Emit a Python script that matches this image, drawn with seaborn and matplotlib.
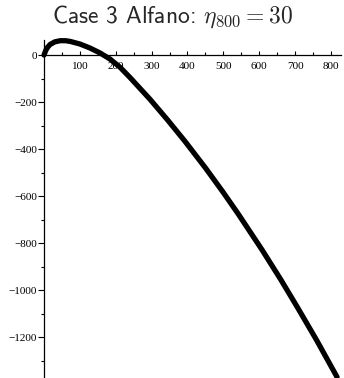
import numpy as np
import matplotlib
matplotlib.use("Agg")
import matplotlib.pyplot as plt
import matplotlib.ticker as mticker
import seaborn as sns
import pandas as pd

# Trajectory
x_vals = [0, 5, 10, 17, 30, 45, 60, 73, 100, 128, 156, 184, 212, 240, 296,
          345, 393, 450, 500, 541, 608, 660, 706, 760, 817]
y_vals = [0, 20, 33, 45, 56, 61, 61, 58, 47, 30, 9, -17, -52, -96, -189,
          -277, -367, -480, -585, -675, -829, -955, -1072, -1213, -1370]
x_ticks = [100, 200, 300, 400, 500, 600, 700, 800]
y_ticks = [0, -200, -400, -600, -800, -1000, -1200]

df = pd.DataFrame({"x": x_vals, "y": y_vals})

sns.set_theme(style="white")
plt.rcParams["mathtext.fontset"] = "cm"

fig = plt.figure(figsize=(3.44, 3.78), dpi=100)
ax = fig.add_axes([44 / 344, 0.0, 297 / 344, 1 - 40 / 378])

sns.lineplot(data=df, x="x", y="y", sort=False, color="black",
             linewidth=3.8, solid_capstyle="round", ax=ax)
for ln in ax.lines:
    ln.set_clip_on(False)

ax.set_xlim(0, 828)
ax.set_ylim(-1374, 64)

# axes crossing at the origin
ax.spines["left"].set_position(("data", 0))
ax.spines["bottom"].set_position(("data", 0))
ax.spines["top"].set_visible(False)
ax.spines["right"].set_visible(False)
for s in ("left", "bottom"):
    ax.spines[s].set_color("black")
    ax.spines[s].set_linewidth(0.9)

def fmt(v, pos):
    v = int(round(v))
    return "\u2212" + str(-v) if v < 0 else str(v)

ax.set_xticks(x_ticks)
ax.set_yticks(y_ticks)
ax.xaxis.set_minor_locator(mticker.MultipleLocator(50))
ax.yaxis.set_minor_locator(mticker.MultipleLocator(100))
ax.xaxis.set_major_formatter(mticker.FuncFormatter(fmt))
ax.yaxis.set_major_formatter(mticker.FuncFormatter(fmt))

ax.tick_params(axis="x", which="major", direction="in", length=3, width=0.8,
               pad=5, labelsize=8, bottom=True, colors="black")
ax.tick_params(axis="x", which="minor", direction="in", length=2, width=0.8,
               bottom=True, colors="black")
ax.tick_params(axis="y", which="major", direction="out", length=4, width=0.8,
               pad=1, labelsize=8, left=True, colors="black")
ax.tick_params(axis="y", which="minor", direction="out", length=2, width=0.8,
               left=True, colors="black")
for lab in ax.get_xticklabels() + ax.get_yticklabels():
    lab.set_fontfamily("Liberation Serif")

ax.set_xlabel("")
ax.set_ylabel("")
ax.grid(False)

fig.text(0.5, 1 - 17 / 378, r"Case 3 Alfano: $\eta_{800} = 30$",
         ha="center", va="center", fontsize=17, family="cmss10")

fig.savefig("out.png", dpi=100)
